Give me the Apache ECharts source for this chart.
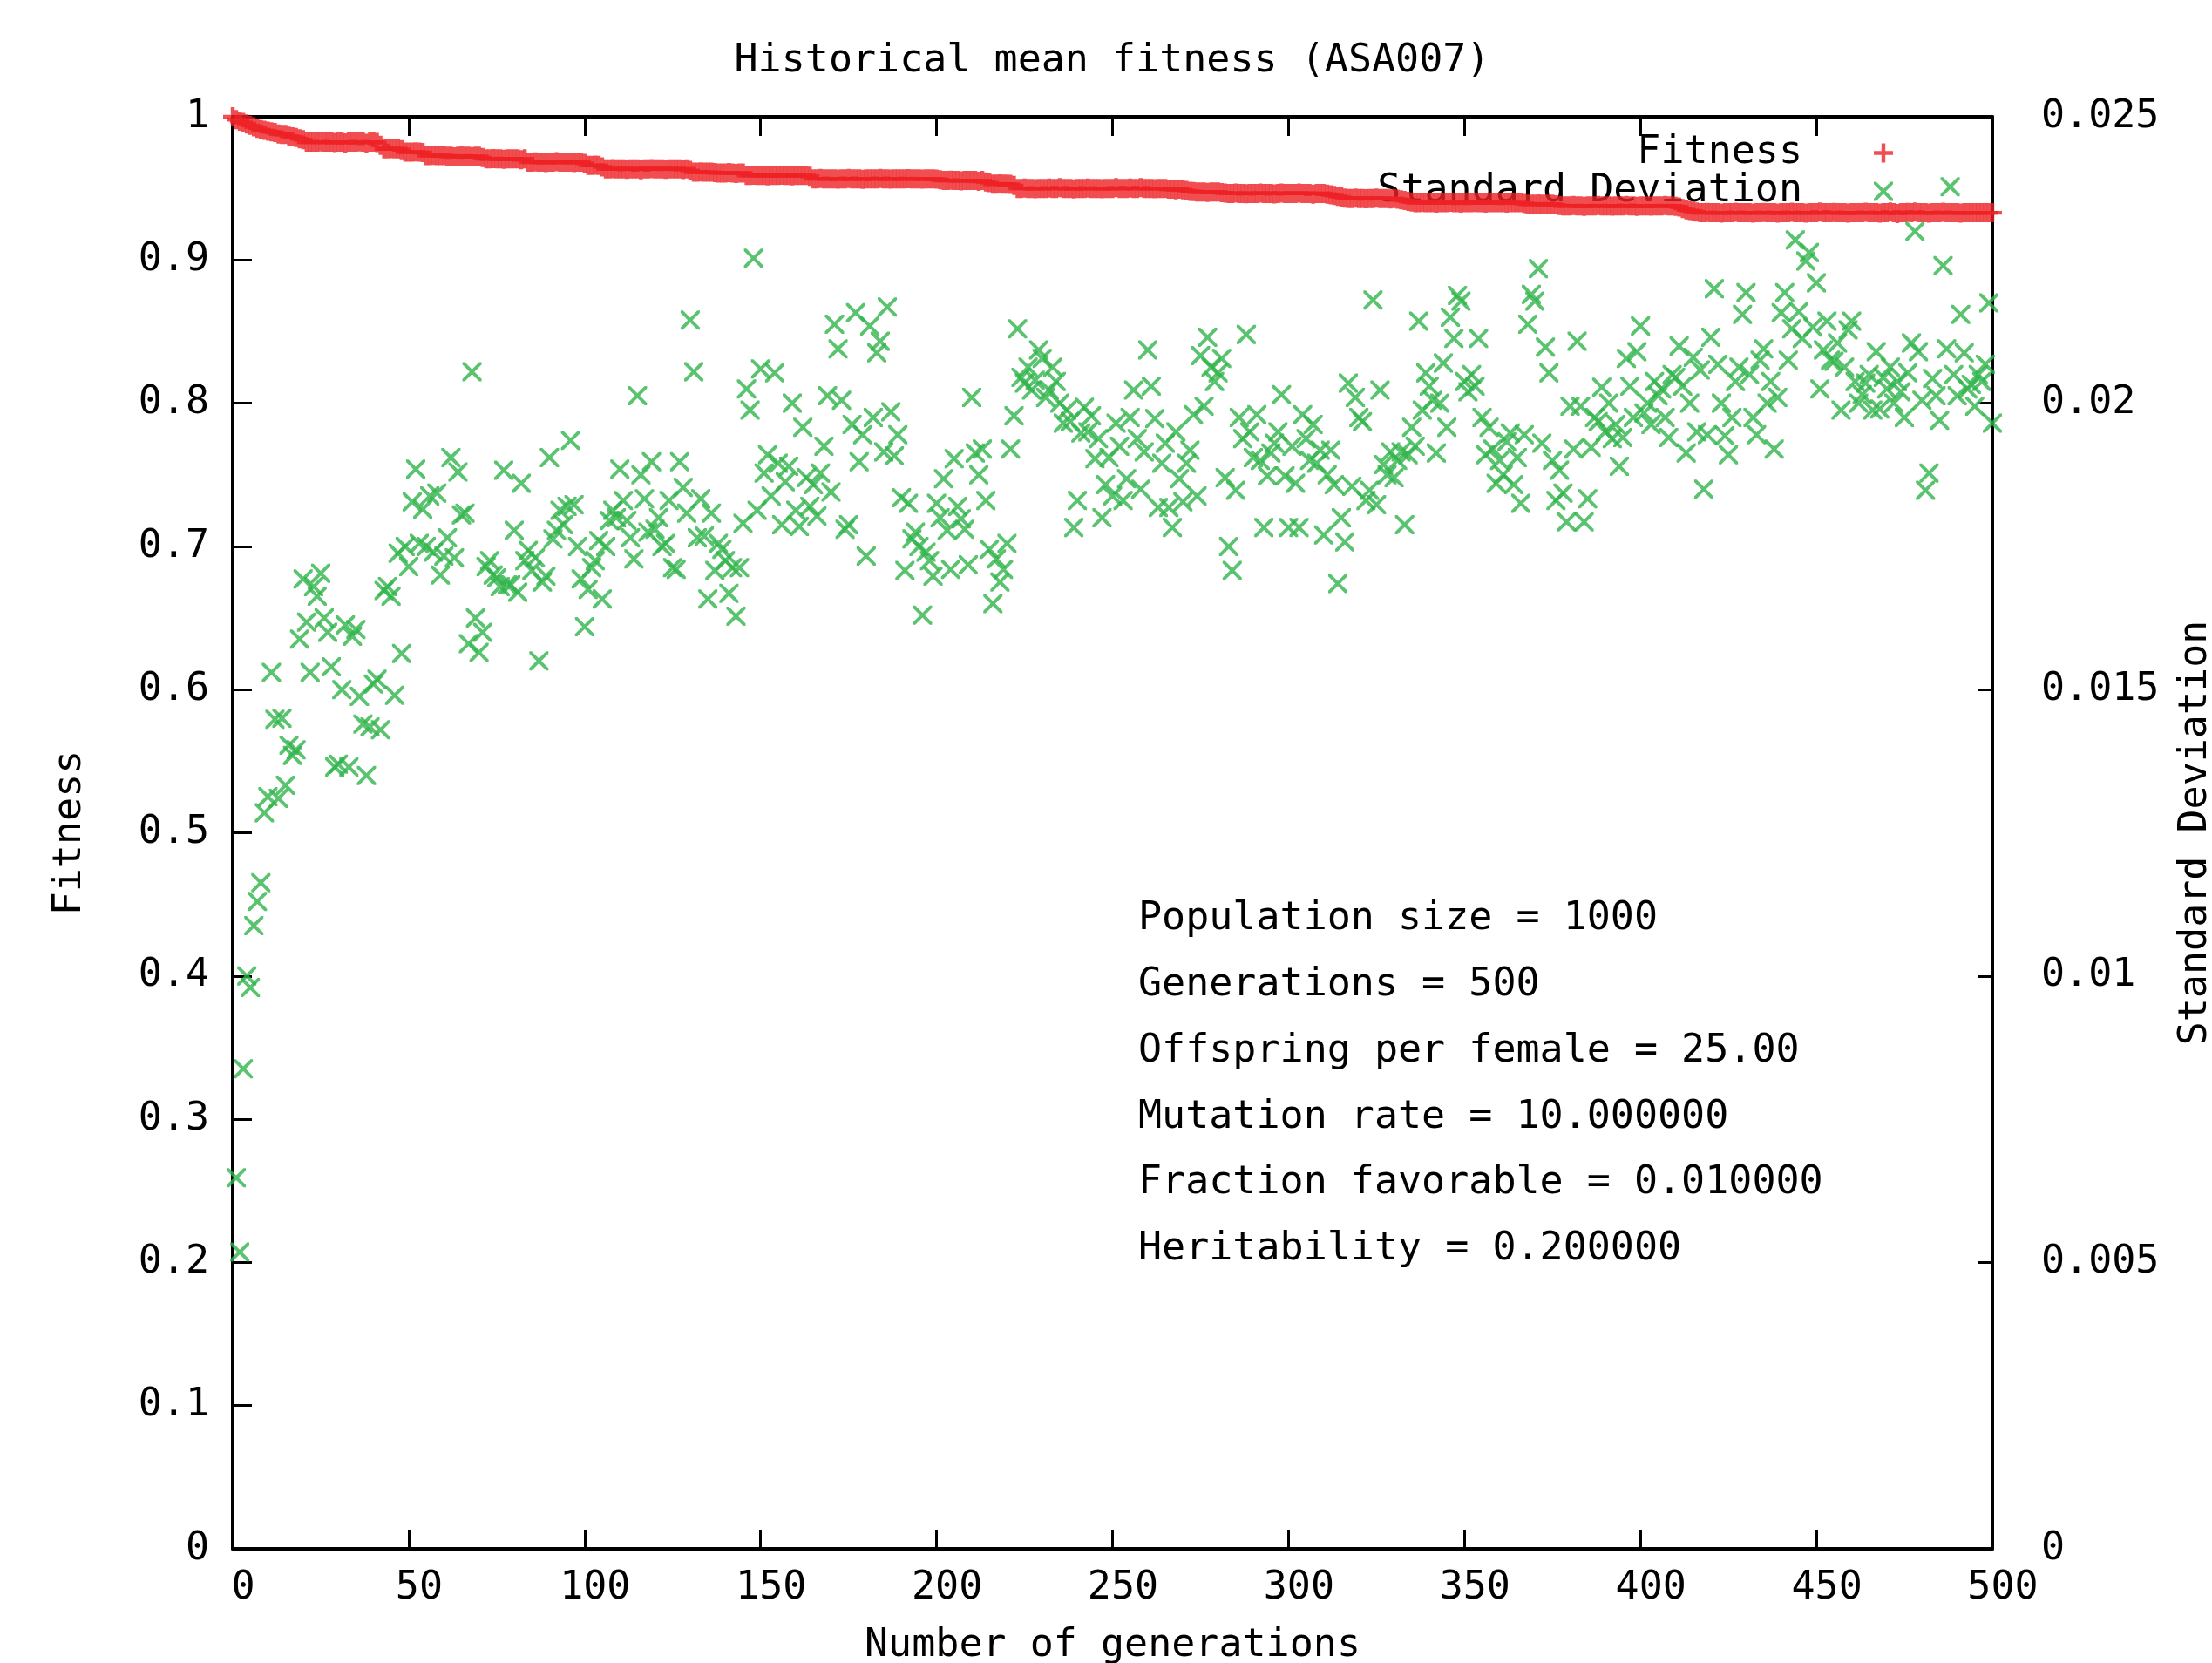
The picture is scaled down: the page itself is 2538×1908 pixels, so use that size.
<!DOCTYPE html>
<html>
<head>
<meta charset="utf-8">
<title>Historical mean fitness (ASA007)</title>
<script src="https://cdn.jsdelivr.net/npm/echarts@6/dist/echarts.min.js"></script>
<style>
    html, body { margin: 0; padding: 0; background: #ffffff; }
    #chart { width: 2538px; height: 1908px; }
</style>
</head>
<body>
<div id="chart"></div>
<script>
// mean fitness, generation 0..500
const fitness = [
    1.000, 0.998, 0.997, 0.996, 0.995, 0.994, 0.993, 0.992, 0.991, 0.9905,
    0.9900, 0.9895, 0.9890, 0.9880, 0.9877, 0.9877, 0.9865, 0.9860, 0.9855, 0.9846,
    0.9840, 0.9823, 0.9823, 0.9823, 0.9823, 0.9825, 0.9823, 0.9823, 0.9823, 0.9820,
    0.9823, 0.9823, 0.9818, 0.9823, 0.9823, 0.9823, 0.9825, 0.9823, 0.9815, 0.9823,
    0.9823, 0.9820, 0.9800, 0.9776, 0.9776, 0.9778, 0.9776, 0.9776, 0.9770, 0.9753,
    0.9753, 0.9753, 0.9755, 0.9753, 0.9750, 0.9729, 0.9729, 0.9731, 0.9729, 0.9729,
    0.9729, 0.9724, 0.9724, 0.9720, 0.9724, 0.9726, 0.9724, 0.9724, 0.9722, 0.9724,
    0.9724, 0.9715, 0.9706, 0.9706, 0.9708, 0.9706, 0.9706, 0.9703, 0.9706, 0.9706,
    0.9706, 0.9706, 0.9700, 0.9706, 0.9683, 0.9683, 0.9685, 0.9683, 0.9683, 0.9680,
    0.9683, 0.9683, 0.9686, 0.9683, 0.9683, 0.9683, 0.9683, 0.9681, 0.9683, 0.9683,
    0.9675, 0.9660, 0.9660, 0.9662, 0.9660, 0.9650, 0.9636, 0.9636, 0.9638, 0.9636,
    0.9636, 0.9636, 0.9633, 0.9636, 0.9636, 0.9636, 0.9630, 0.9636, 0.9636, 0.9638,
    0.9636, 0.9636, 0.9636, 0.9634, 0.9636, 0.9636, 0.9636, 0.9636, 0.9632, 0.9636,
    0.9625, 0.9613, 0.9613, 0.9615, 0.9613, 0.9613, 0.9613, 0.9610, 0.9608, 0.9608,
    0.9608, 0.9610, 0.9608, 0.9605, 0.9608, 0.9608, 0.9590, 0.9590, 0.9592, 0.9590,
    0.9590, 0.9590, 0.9588, 0.9590, 0.9590, 0.9590, 0.9592, 0.9590, 0.9590, 0.9588,
    0.9590, 0.9590, 0.9590, 0.9590, 0.9585, 0.9567, 0.9567, 0.9570, 0.9567, 0.9567,
    0.9567, 0.9567, 0.9565, 0.9567, 0.9567, 0.9569, 0.9567, 0.9567, 0.9567, 0.9564,
    0.9567, 0.9567, 0.9567, 0.9567, 0.9570, 0.9567, 0.9567, 0.9565, 0.9567, 0.9567,
    0.9567, 0.9567, 0.9568, 0.9567, 0.9567, 0.9567, 0.9565, 0.9567, 0.9567, 0.9567,
    0.9565, 0.9560, 0.9555, 0.9555, 0.9557, 0.9555, 0.9555, 0.9553, 0.9555, 0.9555,
    0.9555, 0.9555, 0.9550, 0.9555, 0.9545, 0.9540, 0.9530, 0.9530, 0.9532, 0.9530,
    0.9530, 0.9528, 0.9520, 0.9500, 0.9500, 0.9502, 0.9500, 0.9500, 0.9498, 0.9500,
    0.9500, 0.9500, 0.9503, 0.9500, 0.9500, 0.9505, 0.9500, 0.9500, 0.9500, 0.9497,
    0.9500, 0.9500, 0.9500, 0.9502, 0.9500, 0.9500, 0.9500, 0.9498, 0.9500, 0.9500,
    0.9500, 0.9505, 0.9500, 0.9500, 0.9500, 0.9503, 0.9500, 0.9500, 0.9505, 0.9500,
    0.9500, 0.9500, 0.9498, 0.9500, 0.9500, 0.9500, 0.9495, 0.9495, 0.9490, 0.9495,
    0.9490, 0.9485, 0.9480, 0.9478, 0.9475, 0.9475, 0.9475, 0.9472, 0.9475, 0.9475,
    0.9475, 0.9470, 0.9468, 0.9465, 0.9465, 0.9467, 0.9465, 0.9465, 0.9463, 0.9465,
    0.9465, 0.9465, 0.9468, 0.9465, 0.9465, 0.9465, 0.9462, 0.9465, 0.9467, 0.9465,
    0.9465, 0.9465, 0.9465, 0.9468, 0.9465, 0.9465, 0.9465, 0.9460, 0.9465, 0.9465,
    0.9465, 0.9460, 0.9455, 0.9450, 0.9445, 0.9440, 0.9432, 0.9430, 0.9430, 0.9432,
    0.9430, 0.9430, 0.9428, 0.9430, 0.9430, 0.9433, 0.9430, 0.9430, 0.9430, 0.9427,
    0.9430, 0.9425, 0.9420, 0.9415, 0.9410, 0.9405, 0.9400, 0.9400, 0.9402, 0.9400,
    0.9400, 0.9400, 0.9398, 0.9400, 0.9400, 0.9400, 0.9403, 0.9400, 0.9400, 0.9397,
    0.9400, 0.9400, 0.9400, 0.9402, 0.9400, 0.9400, 0.9398, 0.9400, 0.9400, 0.9400,
    0.9400, 0.9400, 0.9397, 0.9400, 0.9400, 0.9400, 0.9400, 0.9395, 0.9390, 0.9390,
    0.9390, 0.9392, 0.9390, 0.9390, 0.9388, 0.9390, 0.9385, 0.9380, 0.9378, 0.9378,
    0.9378, 0.9380, 0.9378, 0.9378, 0.9375, 0.9378, 0.9378, 0.9378, 0.9380, 0.9378,
    0.9378, 0.9378, 0.9376, 0.9378, 0.9378, 0.9378, 0.9381, 0.9378, 0.9378, 0.9375,
    0.9378, 0.9378, 0.9378, 0.9376, 0.9378, 0.9378, 0.9378, 0.9380, 0.9378, 0.9378,
    0.9375, 0.9370, 0.9360, 0.9350, 0.9345, 0.9340, 0.9335, 0.9330, 0.9330, 0.9332,
    0.9330, 0.9330, 0.9330, 0.9328, 0.9330, 0.9330, 0.9330, 0.9333, 0.9330, 0.9330,
    0.9330, 0.9330, 0.9328, 0.9330, 0.9330, 0.9332, 0.9330, 0.9330, 0.9330, 0.9327,
    0.9330, 0.9330, 0.9330, 0.9333, 0.9330, 0.9330, 0.9330, 0.9328, 0.9330, 0.9330,
    0.9330, 0.9335, 0.9330, 0.9330, 0.9330, 0.9332, 0.9330, 0.9330, 0.9330, 0.9327,
    0.9330, 0.9330, 0.9330, 0.9330, 0.9333, 0.9330, 0.9330, 0.9330, 0.9328, 0.9330,
    0.9330, 0.9335, 0.9330, 0.9325, 0.9330, 0.9330, 0.9332, 0.9330, 0.9335, 0.9330,
    0.9330, 0.9330, 0.9328, 0.9330, 0.9330, 0.9330, 0.9333, 0.9330, 0.9330, 0.9330,
    0.9330, 0.9328, 0.9330, 0.9330, 0.9330, 0.9330, 0.9330, 0.9330, 0.9330, 0.9330,
    0.9330
];

// standard deviation of fitness, generation 1..500
const stdDev = [
    0.00648, 0.00518, 0.00838, 0.01000, 0.00980, 0.01088, 0.01130, 0.01163, 0.01285, 0.01313,
    0.01530, 0.01448, 0.01310, 0.01450, 0.01333, 0.01403, 0.01385, 0.01395, 0.01588, 0.01693,
    0.01618, 0.01530, 0.01680, 0.01663, 0.01703, 0.01625, 0.01600, 0.01540, 0.01365, 0.01370,
    0.01500, 0.01613, 0.01365, 0.01593, 0.01605, 0.01488, 0.01440, 0.01350, 0.01435, 0.01510,
    0.01518, 0.01430, 0.01673, 0.01680, 0.01663, 0.01490, 0.01738, 0.01563, 0.01750, 0.01715,
    0.01828, 0.01885, 0.01755, 0.01815, 0.01750, 0.01838, 0.01740, 0.01843, 0.01700, 0.01733,
    0.01765, 0.01905, 0.01730, 0.01880, 0.01805, 0.01808, 0.01580, 0.02055, 0.01625, 0.01565,
    0.01600, 0.01715, 0.01725, 0.01700, 0.01695, 0.01680, 0.01883, 0.01683, 0.01683, 0.01778,
    0.01670, 0.01860, 0.01725, 0.01743, 0.01708, 0.01730, 0.01550, 0.01688, 0.01698, 0.01905,
    0.01763, 0.01778, 0.01813, 0.01788, 0.01820, 0.01935, 0.01823, 0.01750, 0.01693, 0.01610,
    0.01675, 0.01713, 0.01725, 0.01760, 0.01658, 0.01750, 0.01795, 0.01813, 0.01800, 0.01885,
    0.01830, 0.01795, 0.01765, 0.01728, 0.02013, 0.01875, 0.01833, 0.01775, 0.01898, 0.01780,
    0.01800, 0.01750, 0.01755, 0.01830, 0.01713, 0.01710, 0.01898, 0.01853, 0.01808, 0.02145,
    0.02055, 0.01765, 0.01833, 0.01768, 0.01658, 0.01808, 0.01708, 0.01755, 0.01745, 0.01725,
    0.01668, 0.01713, 0.01628, 0.01713, 0.01790, 0.02025, 0.01988, 0.02253, 0.01813, 0.02060,
    0.01878, 0.01910, 0.01838, 0.02053, 0.01895, 0.01788, 0.01863, 0.01890, 0.02000, 0.01813,
    0.01785, 0.01958, 0.01870, 0.01820, 0.01858, 0.01803, 0.01878, 0.01925, 0.02013, 0.01845,
    0.02138, 0.02095, 0.02005, 0.01780, 0.01788, 0.01963, 0.02158, 0.01898, 0.01945, 0.01733,
    0.02135, 0.01975, 0.02088, 0.02108, 0.01915, 0.02168, 0.01985, 0.01908, 0.01945, 0.01835,
    0.01708, 0.01825, 0.01763, 0.01775, 0.01750, 0.01630, 0.01740, 0.01725, 0.01698, 0.01825,
    0.01800, 0.01868, 0.01778, 0.01710, 0.01903, 0.01820, 0.01798, 0.01780, 0.01718, 0.02010,
    0.01913, 0.01875, 0.01920, 0.01830, 0.01745, 0.01650, 0.01728, 0.01688, 0.01710, 0.01755,
    0.01920, 0.01978, 0.02130, 0.02045, 0.02035, 0.02063, 0.02023, 0.02040, 0.02093, 0.02078,
    0.02010, 0.02023, 0.02063, 0.02038, 0.02000, 0.01965, 0.01988, 0.01968, 0.01783, 0.01830,
    0.01948, 0.01993, 0.01950, 0.01978, 0.01903, 0.01938, 0.01800, 0.01858, 0.01905, 0.01838,
    0.01965, 0.01925, 0.01830, 0.01868, 0.01975, 0.02023, 0.01938, 0.01850, 0.01915, 0.02093,
    0.02030, 0.01973, 0.01818, 0.01895, 0.01930, 0.01818, 0.01783, 0.01950, 0.01868, 0.01828,
    0.01895, 0.01918, 0.01980, 0.01838, 0.02083, 0.01995, 0.02115, 0.02063, 0.02038, 0.02053,
    0.02078, 0.01870, 0.01750, 0.01708, 0.01848, 0.01975, 0.01938, 0.02120, 0.01950, 0.01905,
    0.01980, 0.01900, 0.01783, 0.01873, 0.01913, 0.01930, 0.01950, 0.02015, 0.01873, 0.01783,
    0.01925, 0.01860, 0.01783, 0.01980, 0.01938, 0.01900, 0.01963, 0.01895, 0.01918, 0.01770,
    0.01875, 0.01918, 0.01858, 0.01685, 0.01800, 0.01758, 0.02035, 0.01855, 0.02010, 0.01975,
    0.01968, 0.01830, 0.01848, 0.02180, 0.01823, 0.02023, 0.01893, 0.01875, 0.01915, 0.01870,
    0.01900, 0.01915, 0.01788, 0.01910, 0.01958, 0.01925, 0.02143, 0.01988, 0.02053, 0.02030,
    0.02005, 0.01913, 0.02000, 0.02070, 0.01958, 0.02150, 0.02113, 0.02188, 0.02178, 0.02038,
    0.02020, 0.02050, 0.02030, 0.02113, 0.01975, 0.01910, 0.01958, 0.01920, 0.01860, 0.01900,
    0.01875, 0.01933, 0.01948, 0.01858, 0.01905, 0.01825, 0.01945, 0.02138, 0.02190, 0.02178,
    0.02235, 0.01930, 0.02098, 0.02053, 0.01900, 0.01830, 0.01883, 0.01843, 0.01793, 0.01995,
    0.01920, 0.02108, 0.01995, 0.01793, 0.01833, 0.01923, 0.01975, 0.01968, 0.02028, 0.01950,
    0.02000, 0.01938, 0.01963, 0.01890, 0.01940, 0.02078, 0.02030, 0.01975, 0.02090, 0.02135,
    0.01983, 0.02000, 0.01963, 0.02038, 0.02013, 0.02025, 0.01975, 0.01940, 0.02050, 0.02045,
    0.02100, 0.02030, 0.01913, 0.02000, 0.02080, 0.01950, 0.02058, 0.01850, 0.01945, 0.02115,
    0.02200, 0.02068, 0.02000, 0.01943, 0.01910, 0.01975, 0.02038, 0.02063, 0.02155, 0.02193,
    0.02050, 0.01975, 0.01945, 0.02075, 0.02095, 0.02000, 0.02038, 0.01920, 0.02010, 0.02158,
    0.02193, 0.02075, 0.02130, 0.02285, 0.02160, 0.02113, 0.02248, 0.02263, 0.02133, 0.02210,
    0.02025, 0.02093, 0.02143, 0.02075, 0.02073, 0.02105, 0.01988, 0.02063, 0.02128, 0.02143,
    0.02038, 0.02000, 0.02015, 0.02035, 0.02050, 0.01988, 0.02090, 0.01990, 0.02045, 0.02025,
    0.02063, 0.02000, 0.02038, 0.02020, 0.01975, 0.02053, 0.02105, 0.02300, 0.02090, 0.02005,
    0.01848, 0.01878, 0.02043, 0.02013, 0.01970, 0.02240, 0.02095, 0.02378, 0.02050, 0.02013,
    0.02155, 0.02088, 0.02025, 0.02033, 0.01995, 0.02050, 0.02038, 0.02068, 0.02175, 0.01965
];

// run parameters printed inside the plot
const paramLines = [
    'Population size = 1000',
    'Generations = 500',
    'Offspring per female = 25.00',
    'Mutation rate = 10.000000',
    'Fraction favorable = 0.010000',
    'Heritability = 0.200000'
];

const FONT = 'DejaVu Sans Mono';
const FONT_SIZE = 45;
const RED = '#ee2226';
const GREEN = '#31b44b';
// gnuplot style point markers: "+" and "x"
const plusPath = 'path://M8,0L12,0L12,8L20,8L20,12L12,12L12,20L8,20L8,12L0,12L0,8L8,8Z';
const crossPath = 'path://M0,0L2.5,0L10,7.5L17.5,0L20,0L20,2.5L12.5,10L20,17.5L20,20L17.5,20L10,12.5L2.5,20L0,20L0,17.5L7.5,10L0,2.5Z';

const textStyle = { fontFamily: FONT, fontSize: FONT_SIZE, color: '#000' };
const blackLine = { color: '#000', width: 4 };
const tickLine = { color: '#000', width: 3 };

let myChart = echarts.init(document.getElementById('chart'), null, { renderer: 'canvas' });

// one legend per entry so both texts end at the same x, marker on the right
let legendBase = {
    orient: 'vertical',
    align: 'right',
    right: 366,
    padding: 0,
    itemWidth: 176,
    itemHeight: 22,
    symbolKeepAspect: true,
    selectedMode: false,
    z: 1,
    textStyle: textStyle
};

myChart.setOption({
    animation: false,
    backgroundColor: '#ffffff',
    title: {
        text: 'Historical mean fitness (ASA007)',
        left: 1276,
        top: 48,
        textAlign: 'center',
        padding: 0,
        textStyle: { fontFamily: FONT, fontSize: FONT_SIZE, fontWeight: 'normal', color: '#000' }
    },
    legend: [
        Object.assign({}, legendBase, { top: 153, data: [{ name: 'Fitness', icon: plusPath }] }),
        Object.assign({}, legendBase, { top: 197, data: [{ name: 'Standard Deviation', icon: crossPath }] })
    ],
    grid: { left: 267, right: 252, top: 134, bottom: 131, containLabel: false, outerBoundsMode: 'none' },
    xAxis: [
        {
            type: 'value', position: 'bottom', min: 0, max: 500, interval: 50,
            axisLine: { show: true, onZero: false, lineStyle: blackLine },
            axisTick: { show: true, inside: true, length: 22, lineStyle: tickLine },
            axisLabel: Object.assign({ margin: 23, padding: [0, 0, 0, 24] }, textStyle),
            splitLine: { show: false },
            name: 'Number of generations', nameLocation: 'middle', nameGap: 89,
            nameTextStyle: textStyle
        },
        {
            type: 'value', position: 'top', min: 0, max: 500, interval: 50,
            axisLine: { show: true, onZero: false, lineStyle: blackLine },
            axisTick: { show: true, inside: true, length: 22, lineStyle: tickLine },
            axisLabel: { show: false },
            splitLine: { show: false }
        }
    ],
    yAxis: [
        {
            type: 'value', position: 'left', min: 0, max: 1, interval: 0.1,
            axisLine: { show: true, onZero: false, lineStyle: blackLine },
            axisTick: { show: true, inside: true, length: 22, lineStyle: tickLine },
            axisLabel: Object.assign({ margin: 27, padding: [6, 0, 0, 0] }, textStyle),
            splitLine: { show: false },
            name: 'Fitness', nameLocation: 'middle', nameGap: 164,
            nameTextStyle: textStyle
        },
        {
            type: 'value', position: 'right', min: 0, max: 0.025, interval: 0.005,
            axisLine: { show: true, onZero: false, lineStyle: blackLine },
            axisTick: { show: true, inside: true, length: 17, lineStyle: tickLine },
            axisLabel: Object.assign({ margin: 56, padding: [6, 0, 0, 0] }, textStyle),
            splitLine: { show: false },
            name: 'Standard Deviation', nameLocation: 'middle', nameGap: 211,
            nameTextStyle: textStyle
        }
    ],
    graphic: paramLines.map(function (line, i) {
        return {
            type: 'text',
            left: 1306,
            top: 1032 + i * 75.8,
            style: { text: line, fontFamily: FONT, fontSize: FONT_SIZE, fill: '#000' }
        };
    }),
    series: [
        {
            name: 'Fitness',
            type: 'scatter',
            xAxisIndex: 0,
            yAxisIndex: 0,
            symbol: plusPath,
            symbolSize: 22,
            clip: false,
            silent: true,
            itemStyle: { color: RED },
            data: fitness.map(function (v, i) { return [i, v]; })
        },
        {
            name: 'Standard Deviation',
            type: 'scatter',
            xAxisIndex: 0,
            yAxisIndex: 1,
            symbol: crossPath,
            symbolSize: 22,
            clip: false,
            silent: true,
            itemStyle: { color: GREEN },
            data: stdDev.map(function (v, i) { return [i + 1, v]; })
        }
    ]
});
</script>
</body>
</html>
